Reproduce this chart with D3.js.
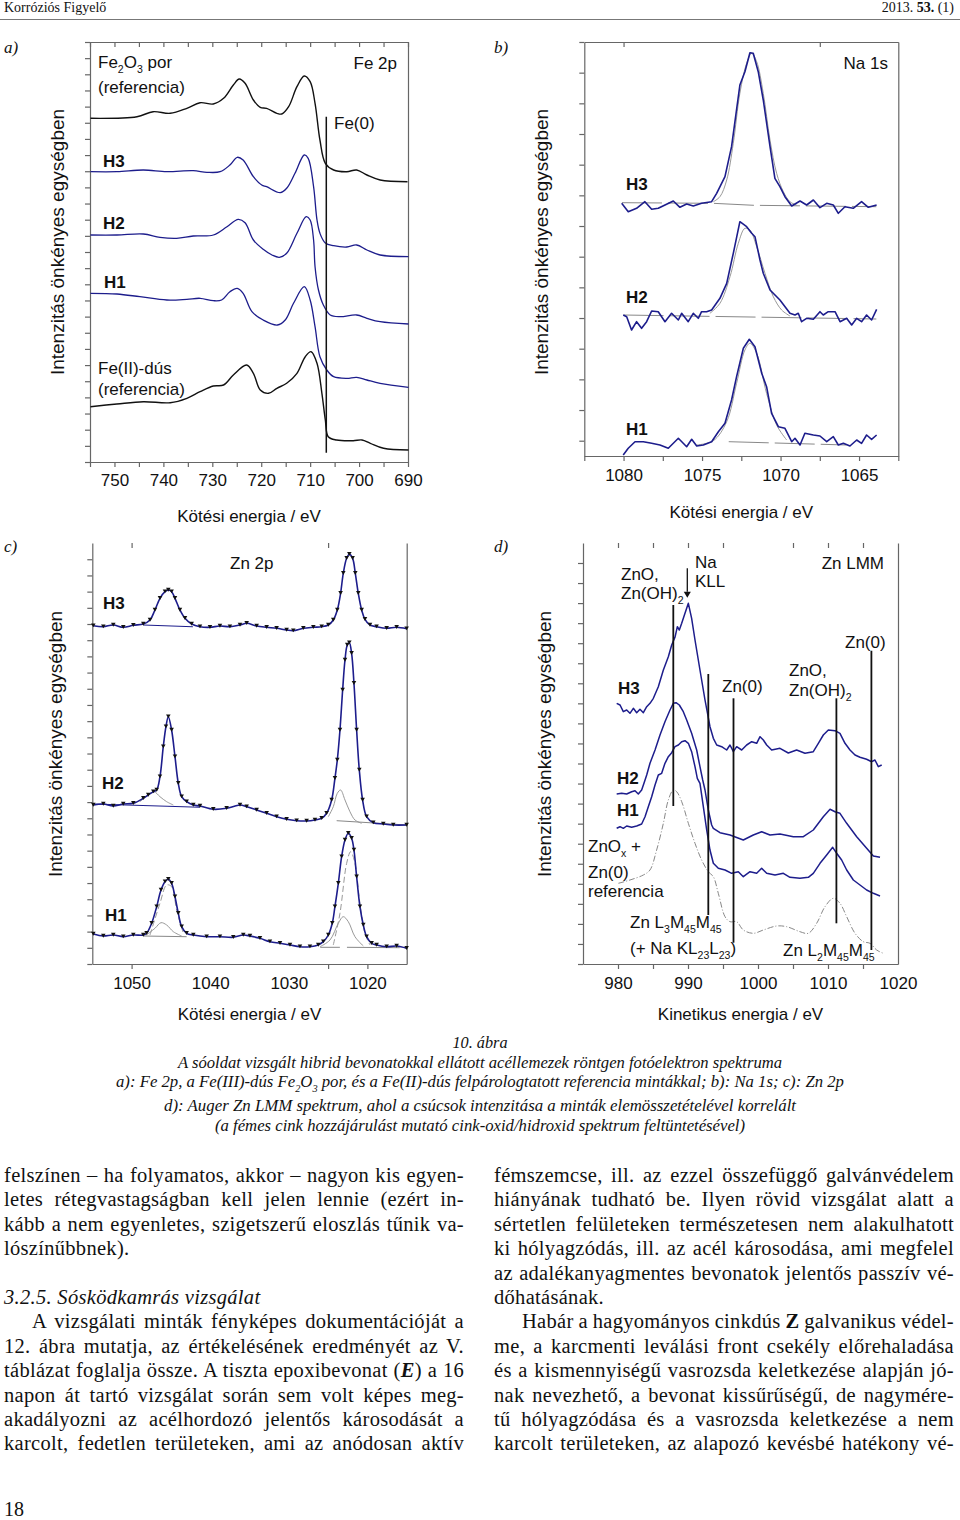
<!DOCTYPE html>
<html>
<head>
<meta charset="utf-8">
<script src="https://d3js.org/d3.v7.min.js"></script>
<style>
  body { margin: 0; background: #fff; }
  svg { display: block; }
  .ax path, .ax line { stroke: #666; stroke-width: 1.2; }
</style>
</head>
<body>
<svg id="page"></svg>
<script>
// ---- a) Fe 2p : [kötési energia eV, intenzitás tetsz. egység]
const aFe2O3 = [[754.9,343.7],[745.4,345.3],[742.1,350.3],[738.6,348.7],[735.2,353.7],[732.5,359.3],[729.8,358],[727.7,363.7],[725.7,377],[724.5,383],[723.3,378.7],[721.6,362],[720.2,354.7],[718.9,353.7],[716.8,348.7],[715.8,348],[714.4,355.3],[712.7,375.3],[711.2,386],[710,380.3],[709,358.7],[708,322],[706.9,298.7],[705.2,292],[702.5,290.3],[700.5,292],[698.4,287],[695.7,282],[690.1,280.3]];
const aH3 = [[754.9,290.3],[749.5,290.3],[744.1,292],[739.3,290.3],[733.9,291.3],[731.1,289.7],[728.4,290.3],[726.4,297],[724.9,304.7],[723.7,302],[721.6,285.3],[719.9,277],[718.9,275.3],[716.1,269.3],[714.8,273.7],[713.1,288.7],[711.2,307],[710.4,303.7],[709.3,275.3],[708.6,242],[708,228.7],[706.9,219],[705.2,216.3],[702.5,215],[700.5,217],[698.4,212],[695.7,207],[689.9,205.3]];
const aH2 = [[754.9,227],[749.5,227],[744.1,228],[740.7,224.7],[737.3,223.7],[733.9,226],[729.8,227],[727,235.3],[724.7,242.7],[723.3,239.3],[721.6,222],[719.6,212.7],[717.8,207],[716.3,204.7],[714.8,208.7],[712.7,228.7],[710.8,245.3],[710,242],[709.3,222],[709,195.3],[708.3,172],[707.3,157],[705.9,147],[703.9,145.3],[700.5,147],[698.4,143.7],[695.7,140.3],[689.9,138]];
const aH1 = [[754.9,168.7],[749.5,168],[744.8,165.3],[739.3,162],[735.2,162.7],[732.5,163.7],[729.8,161.3],[728.1,162],[726.4,170.3],[724.9,173.7],[723.7,168.7],[721.9,150.3],[719.6,142],[716.7,137],[715.1,142],[713.4,158.7],[711.2,175.3],[710,162],[709,135.3],[708,105.3],[706.6,92],[705.2,85.3],[702.5,83.7],[700.5,84.7],[698.4,82],[695.7,78.7],[689.9,74.7]];
const aFeII = [[754.9,55.3],[749.5,58],[744.1,60.3],[738.6,59.3],[735.2,63.7],[732.5,70.3],[729.8,76],[727.7,77],[725.7,87],[723,97],[721.6,88.7],[720.2,72],[718.5,68.7],[716.8,73.7],[714.8,78.7],[712.7,88.7],[711,105.3],[709.8,110.3],[708.6,98.7],[707.6,68.7],[706.9,42],[706.3,25.3],[704.6,22],[701.2,21.3],[699.4,22],[697.7,18.7],[695,13.7],[689.9,12]];
const aFe0Line = [[706.7,345.3],[706.7,9.3]];
const aXLabels = [750, 740, 730, 720, 710, 700, 690];
const aXTicks = d3.range(755, 689, -5);

// ---- b) Na 1s
const bH3 = [[1080.12,252.7],[1079.70,244.3],[1079.17,247.7],[1078.64,254.3],[1078.21,246.7],[1077.79,247.7],[1077.36,251],[1076.83,255],[1076.41,248.7],[1075.98,252],[1075.56,250],[1075.03,252.7],[1074.39,254.3],[1074.07,262.7],[1073.54,279.3],[1073.12,309.3],[1072.59,371],[1072.27,384.3],[1071.95,403.3],[1071.74,402.7],[1071.42,384.3],[1071.10,356],[1070.67,309.3],[1070.36,277.7],[1070.04,269.3],[1069.72,259.3],[1069.29,250],[1068.76,255],[1068.34,251],[1067.91,256],[1067.49,248.3],[1067.06,252.7],[1066.64,251],[1066.32,242.7],[1065.90,249.3],[1065.37,247.7],[1064.84,254.3],[1064.41,248.7],[1063.88,251]];
const bH3Fit = [[1074.28,254.3],[1073.86,259.3],[1073.43,276],[1073.01,312.7],[1072.59,362.7],[1072.16,392.7],[1071.84,402.7],[1071.52,394.3],[1071.10,362.7],[1070.67,316],[1070.25,282.7],[1069.82,264.3],[1069.40,254.3],[1068.98,251]];
const bH3Base = [[1080.1,253.3],[1074.3,252.7],[1071.7,250.7],[1063.9,249.3]];
const bH2 = [[1080.02,141],[1079.80,139.3],[1079.49,126],[1079.17,134.3],[1078.85,127.7],[1078.53,134.3],[1078.21,145],[1077.79,144.3],[1077.36,134.3],[1076.94,142.7],[1076.51,136],[1076.30,142.7],[1075.88,134.3],[1075.56,142.7],[1075.24,137.7],[1075.03,144.3],[1074.71,144.3],[1074.39,146],[1073.86,157.7],[1073.43,172.7],[1073.01,202.7],[1072.59,234.3],[1072.16,229.3],[1071.84,222.7],[1071.63,219.3],[1071.31,196],[1071.10,182.7],[1070.67,166],[1070.04,156],[1069.40,142.7],[1069.08,141],[1068.87,142.7],[1068.66,134.3],[1068.34,137.7],[1067.91,136.7],[1067.49,144.3],[1067.28,141],[1066.96,144.3],[1066.53,144.3],[1066.21,134.3],[1065.79,137.7],[1065.47,131],[1065.15,137.7],[1064.84,134.3],[1064.52,141],[1064.20,136],[1063.88,146.7]];
const bH2Fit = [[1074.50,142.7],[1073.86,152.7],[1073.22,179.3],[1072.69,212.7],[1072.27,227.7],[1071.95,226],[1071.52,209.3],[1070.99,182.7],[1070.46,159.3],[1069.93,146],[1069.40,140]];
const bH2Base = [[1080.0,141],[1063.9,137]];
const bH1 = [[1080.02,1],[1079.70,7.7],[1079.27,14.3],[1078.74,14.3],[1078.21,12.7],[1077.68,11],[1077.15,7.7],[1076.51,17.7],[1075.98,9.3],[1075.66,16.7],[1075.34,10],[1074.92,11],[1074.39,14.3],[1073.96,24.3],[1073.54,32.7],[1073.12,56],[1072.80,79.3],[1072.37,107.7],[1071.99,116.7],[1071.63,109.3],[1071.20,82.7],[1070.89,69.3],[1070.57,42.7],[1070.14,29.3],[1069.72,27.7],[1069.29,14.3],[1069.08,17.7],[1068.76,11],[1068.45,22.7],[1067.91,21],[1067.49,20],[1067.06,14.3],[1066.64,19.3],[1066.32,11],[1066.00,12.7],[1065.58,10],[1065.15,16],[1064.84,12.7],[1064.52,21],[1064.20,16.7],[1063.88,21]];
const bH1Fit = [[1075.34,11],[1074.28,15.3],[1073.43,34.3],[1072.80,72.7],[1072.27,106],[1071.95,112.7],[1071.52,102.7],[1070.89,62.7],[1070.25,31],[1069.61,16]];
const bH1Base = [[1073.3,14.3],[1065.8,11]];
const bXLabels = [1080, 1075, 1070, 1065];
const bXTicks = d3.range(1082.5, 1062, -2.5);

// ---- c) Zn 2p
const cH3 = [[1054.87,338.3],[1053.60,337.3],[1052.33,339],[1051.06,336.7],[1049.78,338.7],[1048.51,340],[1047.66,344],[1047.03,354],[1046.39,365.7],[1045.75,372.3],[1045.33,374],[1044.91,372.3],[1044.48,365.7],[1043.85,354],[1043.21,345.7],[1042.36,340],[1041.30,337.3],[1040.03,336.7],[1038.76,338],[1037.49,337.3],[1036.21,339],[1035.36,340.7],[1034.09,338],[1032.82,336.7],[1031.55,335.7],[1030.28,334],[1029.43,333.3],[1028.15,335.7],[1026.88,336.7],[1025.82,337.3],[1024.97,339],[1024.34,344],[1023.83,354],[1023.41,370.7],[1023.07,390.7],[1022.64,405.7],[1022.30,409.7],[1021.88,405.7],[1021.54,390.7],[1021.16,370.7],[1020.73,354],[1020.31,344.7],[1019.67,339],[1018.83,337.3],[1017.55,335.7],[1016.28,336.7],[1015.01,335.3]];
const cH3Base = [[1048.5,339],[1042.2,337.3]];
const cH2 = [[1054.87,159],[1053.60,160],[1052.33,158],[1051.06,160],[1049.78,160.7],[1048.51,165.7],[1047.88,169],[1047.24,172.3],[1046.81,174],[1046.39,187.3],[1045.97,217.3],[1045.63,237.3],[1045.33,247.3],[1044.91,234],[1044.48,207.3],[1044.06,180.7],[1043.63,167.3],[1043.00,162.3],[1042.15,159],[1041.30,158],[1039.61,154.7],[1037.91,155.7],[1036.21,159],[1035.36,157.3],[1034.09,154],[1032.82,150.7],[1031.55,147.3],[1030.28,144.7],[1029.00,143.3],[1027.73,143],[1026.67,144],[1025.82,145.7],[1025.19,150.7],[1024.55,164],[1024.13,185.7],[1023.83,204],[1023.49,234],[1023.15,274],[1022.85,304],[1022.56,319],[1022.30,321.3],[1022.01,310.7],[1021.71,280.7],[1021.37,234],[1021.03,194],[1020.61,164],[1020.10,147.3],[1019.25,141.3],[1017.98,140],[1016.71,139],[1015.01,139]];
const cH2CompA = [[1048.94,162.3],[1047.88,169],[1047.15,172.3],[1046.39,167.3],[1045.54,162.3],[1044.69,159]];
const cH2CompB = [[1024.97,147.3],[1024.34,157.3],[1023.83,170.7],[1023.41,174],[1022.85,164],[1022.22,152.3],[1021.58,144],[1020.73,140.7]];
const cH2BaseL = [[1054.87,160],[1041.30,156.7]];
const cH2BaseR = [[1023.91,143.3],[1015.01,139]];
const cH1 = [[1054.87,30],[1053.60,28],[1052.33,29],[1051.06,27.3],[1049.78,29],[1048.51,29],[1048.09,30.7],[1047.45,40.7],[1046.81,57.3],[1046.26,74],[1045.75,82.3],[1045.33,84.7],[1044.91,80.7],[1044.48,67.3],[1044.06,50.7],[1043.63,37.3],[1043.00,30.7],[1042.15,29],[1040.45,27.3],[1038.76,27.3],[1037.06,26.7],[1035.79,29],[1034.94,28],[1033.67,25.7],[1032.40,22.3],[1031.12,20.7],[1029.85,19],[1028.58,17.3],[1027.31,17.3],[1026.25,19],[1025.61,22.3],[1024.97,29],[1024.47,40.7],[1024.13,57.3],[1023.70,80.7],[1023.28,107.3],[1022.85,124],[1022.43,130.7],[1022.01,125.7],[1021.71,114],[1021.37,87.3],[1020.95,57.3],[1020.52,39],[1020.10,27.3],[1019.46,20.7],[1018.83,19],[1017.55,17.3],[1016.28,18],[1015.01,15.7]];
const cH1CompA = [[1047.66,29],[1046.39,60.7],[1045.54,79],[1044.91,77.3],[1044.27,54],[1043.42,30.7]];
const cH1CompB = [[1048.09,29],[1047.03,35.7],[1046.26,41.3],[1045.54,39],[1044.69,32.3],[1043.63,28]];
const cH1CompC = [[1024.34,19],[1023.49,50.7],[1022.64,100.7],[1022.13,112.3],[1021.58,100.7],[1020.95,60.7],[1020.31,30.7],[1019.67,19]];
const cH1CompD = [[1026.03,17.3],[1024.76,24],[1023.70,40.7],[1023.07,47.3],[1022.43,42.3],[1021.58,27.3],[1020.52,18]];
const cH1BaseL = [[1048.5,28],[1043.0,27.3]];
const cH1BaseR = [[1026.0,16.7],[1023.5,16.7]];
const cH1BaseR2 = [[1022.6,16.7],[1015.9,16.3]];
const cXLabels = [1050, 1040, 1030, 1020];
const cXTicks = [1050, 1025, 1020];
const cTopTicks = [1050, 1025];

// ---- d) Zn LMM : [kinetikus energia eV, intenzitás]
const dH3 = [[979.81,260.7],[980.29,259],[980.76,252.3],[981.24,254],[981.71,250.7],[982.19,255.7],[982.67,251.3],[983.14,254.7],[983.62,251.3],[984.10,257.3],[984.57,260.7],[985.05,265.7],[985.76,277.3],[986.48,294],[987.19,307.3],[987.67,319],[988.14,326.7],[988.48,337.3],[988.76,334],[989.10,340.7],[989.57,350.7],[990.05,360.7],[990.52,345.7],[991.00,324],[991.71,294],[992.43,264],[993.14,237.3],[993.62,225.7],[994.10,219],[994.81,217.3],[995.52,214],[996.00,219],[996.48,212.3],[996.95,217.3],[997.67,214],[998.38,219],[999.10,222.3],[999.81,220.7],[1000.29,227.3],[1000.76,224],[1001.24,219],[1001.95,214],[1003.14,215.7],[1004.33,211],[1005.52,214],[1006.71,210.7],[1007.90,212.3],[1008.62,220.7],[1009.33,229],[1010.05,234],[1011.00,233.3],[1011.71,230.7],[1012.43,220.7],[1013.14,214],[1013.86,209],[1014.57,206.7],[1015.52,204.7],[1016.24,202.3],[1016.71,204],[1017.19,197.3],[1017.67,199]];
const dH2 = [[979.81,170],[980.52,170.7],[981.24,170],[981.95,172.3],[982.43,173.3],[982.90,170],[983.38,174],[983.71,180.7],[984.10,189],[984.57,200.7],[985.29,214],[986.00,229],[986.71,242.3],[987.43,254],[987.90,260.7],[988.29,261.3],[988.76,259],[989.33,252.3],[989.81,244],[990.52,230.7],[991.24,214],[991.71,197.3],[992.10,184],[992.43,174],[992.90,154],[993.38,139],[993.62,135.7],[994.57,131.3],[996.00,129],[997.90,124],[999.33,129],[1000.52,132.3],[1001.71,129],[1003.14,130],[1005.05,127.3],[1006.48,127.3],[1007.90,134],[1009.33,147.3],[1010.29,154.7],[1011.00,152.3],[1011.71,150.7],[1012.67,140.7],[1014.10,127.3],[1015.52,115.7],[1016.48,108],[1017.43,106.7]];
const dH1 = [[979.81,135.7],[980.29,137.3],[980.76,135.7],[981.24,138],[981.95,136.7],[982.67,138],[983.38,140],[983.86,147.3],[984.33,157.3],[984.81,167.3],[985.29,179],[985.76,189],[986.24,190.7],[986.71,200.7],[987.19,207.3],[987.67,211.3],[988.14,217.3],[988.62,219],[989.10,222.3],[989.57,223.3],[990.05,220.7],[990.52,212.3],[991.00,197.3],[991.33,185.7],[991.71,180.7],[992.19,157.3],[992.67,134],[993.14,114],[993.62,100.7],[994.33,95.7],[995.29,94],[996.24,90.7],[997.19,92.3],[997.90,87.3],[998.86,92.3],[999.81,90.7],[1000.52,95.7],[1001.24,90.7],[1002.43,89],[1003.62,90.7],[1004.57,86.7],[1006.00,85.7],[1007.19,86.7],[1007.90,90.7],[1008.86,100.7],[1009.81,109],[1010.67,116.7],[1011.24,110.7],[1011.95,104],[1012.67,94],[1013.62,84],[1014.57,79],[1015.52,74],[1016.48,70.7],[1017.43,68]];
const dRef = [[980.05,80.7],[981.71,84],[983.62,89],[984.57,94],[985.52,114],[986.48,140.7],[987.19,164],[987.90,174],[988.38,172.3],[989.10,162.3],[990.05,140.7],[991.00,120.7],[991.95,104],[992.90,92.3],[993.62,87.3],[994.33,70.7],[995.29,47.3],[996.00,42.3],[996.95,42.3],[997.90,34],[999.33,30.7],[1000.76,34],[1002.67,38],[1004.10,37.3],[1006.00,32.3],[1007.19,30.7],[1008.38,40.7],[1009.57,57.3],[1010.76,65.7],[1011.71,60.7],[1012.67,47.3],[1013.86,30.7],[1015.05,22.3],[1016.00,20.7],[1016.95,14],[1017.90,10.7]];
// függőleges jelölővonalak: [energia, felső, alsó]
const dMarks = [[987.9,359,158],[992.9,290,49],[996.5,265.7,21.3],[1011.2,265.7,40.7],[1016.2,313.3,14]];
const dNaKLL = [989.9, 395.7, 367.3];
const dXLabels = [980, 990, 1000, 1010, 1020];
const dXTicks = d3.range(980, 1016, 5);
const dTopTicks = [980, 985, 990, 995, 1005, 1010, 1015];

// ---- szöveg
const captionLines = [
  [["10. ábra"]],
  [["A sóoldat vizsgált hibrid bevonatokkal ellátott acéllemezek röntgen fotóelektron spektruma"]],
  [["a): Fe 2p, a Fe(III)-dús Fe"],["2","sub"],["O"],["3","sub"],[" por, és a Fe(II)-dús felpárologtatott referencia mintákkal; b): Na 1s; c): Zn 2p"]],
  [["d): Auger Zn LMM spektrum, ahol a csúcsok intenzitása a minták elemösszetételével korrelált"]],
  [["(a fémes cink hozzájárulást mutató cink-oxid/hidroxid spektrum feltüntetésével)"]]
];
const leftLines = [
  "felszínen – ha folyamatos, akkor – nagyon kis egyen-",
  "letes rétegvastagságban kell jelen lennie (ezért in-",
  "kább a nem egyenletes, szigetszerű eloszlás tűnik va-",
  "lószínűbbnek).",
  "",
  "3.2.5. Sósködkamrás vizsgálat",
  "A vizsgálati minták fényképes dokumentációját a",
  "12. ábra mutatja, az értékelésének eredményét az V.",
  "táblázat foglalja össze. A tiszta epoxibevonat (_E_) a 16",
  "napon át tartó vizsgálat során sem volt képes meg-",
  "akadályozni az acélhordozó jelentős károsodását a",
  "karcolt, fedetlen területeken, ami az anódosan aktív"
];
const rightLines = [
  "fémszemcse, ill. az ezzel összefüggő galvánvédelem",
  "hiányának tudható be. Ilyen rövid vizsgálat alatt a",
  "sértetlen felületeken természetesen nem alakulhatott",
  "ki hólyagzódás, ill. az acél károsodása, ami megfelel",
  "az adalékanyagmentes bevonatok jelentős passzív vé-",
  "dőhatásának.",
  "Habár a hagyományos cinkdús *Z* galvanikus védel-",
  "me, a karcmenti leválási front csekély előrehaladása",
  "és a kismennyiségű vasrozsda keletkezése alapján jó-",
  "nak nevezhető, a bevonat kissűrűségű, de nagymére-",
  "tű hólyagzódása és a vasrozsda keletkezése a nem",
  "karcolt területeken, az alapozó kevésbé hatékony vé-"
];
// j = sorkizárt, i = bekezdés behúzás, h = dőlt cím, n = normál
const leftKind  = ["j","j","j","n","n","h","ij","j","j","j","j","j"];
const rightKind = ["j","j","j","j","j","n","ij","j","j","j","j","j"];

const sans = "'Liberation Sans', Arial, sans-serif";
const serif = "'Liberation Serif', 'Times New Roman', serif";
const blue = "#1d1d8c";

const svg = d3.select("#page").attr("width", 960).attr("height", 1520);

function label(g, x, y, parts, o = {}) {
  const size = o.size || 17;
  const t = g.append("text").attr("x", x).attr("y", y)
    .attr("font-family", o.family || sans).attr("font-size", size).attr("fill", "#111");
  if (o.anchor) t.attr("text-anchor", o.anchor);
  if (o.weight) t.attr("font-weight", o.weight);
  if (o.style) t.attr("font-style", o.style);
  if (o.rotate) t.attr("transform", `rotate(${o.rotate},${x},${y})`);
  let shift = 0;
  const list = typeof parts === "string" ? [[parts]] : parts;
  list.forEach(([s, k]) => {
    const ts = t.append("tspan").text(s);
    const want = k === "sub" ? (o.subDy || size * 0.28) : 0;
    if (want !== shift) { ts.attr("dy", want - shift); shift = want; }
    if (k === "sub") ts.attr("font-size", size * 0.62);
    if (k === "b") ts.attr("font-weight", "bold");
    if (k === "bi") ts.attr("font-weight", "bold").attr("font-style", "italic");
  });
  return t;
}

function makePanel(b) {
  const x = d3.scaleLinear().domain(b.xDomain).range([b.left, b.right]);
  const y = d3.scaleLinear().domain(b.yDomain).range([b.bottom, b.top]);
  const g = svg.append("g");
  g.append("g").attr("class", "ax").attr("transform", `translate(0,${b.bottom})`)
    .call(d3.axisBottom(x).tickValues(b.xTicks).tickSize(5).tickSizeOuter(0).tickFormat(""));
  g.append("g").attr("transform", `translate(0,${b.bottom})`)
    .call(d3.axisBottom(x).tickValues(b.xLabels).tickSize(0).tickPadding(b.pad).tickFormat(d3.format("d")))
    .call(s => s.select(".domain").remove())
    .attr("font-size", 17).attr("font-family", sans)
    .selectAll("text").attr("fill", "#111");
  g.append("g").attr("class", "ax").attr("transform", `translate(${b.left},0)`)
    .call(d3.axisLeft(y).tickValues(b.yTicks).tickSize(5).tickSizeOuter(0).tickFormat(""));
  g.append("g").attr("class", "ax").attr("transform", `translate(${b.right},0)`)
    .call(d3.axisRight(y).tickValues([]).tickSizeOuter(0));
  const top = g.append("g").attr("class", "ax").attr("transform", `translate(0,${b.top})`)
    .call(d3.axisTop(x).tickValues(b.topTicks).tickSize(-5).tickSizeOuter(0).tickFormat(""));
  if (!b.topLine) top.select(".domain").remove();
  label(g, b.yTitleX, b.yTitleY, "Intenzitás önkényes egységben",
    { anchor: "middle", rotate: -90, size: 19 });
  label(g, (b.left + b.right) / 2, b.xTitleY, b.xTitle, { anchor: "middle", size: 17 });
  return { g, x, y };
}

function curve(p, data, color, width, dash, smooth) {
  p.g.append("path").datum(data)
    .attr("fill", "none").attr("stroke", color).attr("stroke-width", width)
    .attr("stroke-dasharray", dash || null).attr("stroke-linejoin", "round")
    .attr("d", d3.line().curve(smooth ? d3.curveCatmullRom.alpha(0.5) : d3.curveLinear)
      .x(d => p.x(d[0])).y(d => p.y(d[1])));
}

function markers(p, data) {
  p.g.append("g").selectAll("path").data(data).join("path")
    .attr("transform", d => `translate(${p.x(d[0])},${p.y(d[1]) - 1}) rotate(180)`)
    .attr("d", d3.symbol(d3.symbolTriangle, 9)).attr("fill", "#111");
}

// ---------- fejléc
const head = svg.append("g");
label(head, 4, 12, "Korróziós Figyelő", { family: serif, size: 14 });
label(head, 954, 12, [["2013. "], ["53.", "b"], [" (1)"]], { family: serif, size: 14, anchor: "end" });
head.append("line").attr("x1", 0).attr("x2", 960).attr("y1", 19.5).attr("y2", 19.5)
  .attr("stroke", "#777").attr("stroke-width", 1);

// ---------- a) panel
const pa = makePanel({ left: 90, right: 408, top: 42, bottom: 462, xDomain: [755, 690], yDomain: [0, 420],
  xTicks: aXTicks, xLabels: aXLabels, topTicks: aXTicks, topLine: true, pad: 12,
  yTicks: d3.range(0, 27).map(k => k * 420 / 26), yTitleX: 64, yTitleY: 242,
  xTitle: "Kötési energia / eV", xTitleY: 522 });
curve(pa, aFe2O3, "#111", 1.4, null, true);
curve(pa, aH3, blue, 1.3, null, true);
curve(pa, aH2, blue, 1.3, null, true);
curve(pa, aH1, blue, 1.3, null, true);
curve(pa, aFeII, "#111", 1.4, null, true);
curve(pa, aFe0Line, "#111", 1.5);
label(svg, 4, 53, "a)", { family: serif, style: "italic", size: 17 });
label(pa.g, 98, 68, [["Fe"], ["2", "sub"], ["O"], ["3", "sub"], [" por"]]);
label(pa.g, 98, 93, "(referencia)");
label(pa.g, 397, 69, "Fe 2p", { anchor: "end" });
label(pa.g, 334, 129, "Fe(0)");
label(pa.g, 103, 167, "H3", { weight: "bold" });
label(pa.g, 103, 229, "H2", { weight: "bold" });
label(pa.g, 104, 288, "H1", { weight: "bold" });
label(pa.g, 98, 374, "Fe(II)-dús");
label(pa.g, 98, 395, "(referencia)");

// ---------- b) panel
const pb = makePanel({ left: 584.3, right: 898.3, top: 42, bottom: 456, xDomain: [1082.5, 1062.5], yDomain: [0, 414],
  xTicks: bXTicks, xLabels: bXLabels, topTicks: [1080, 1067.5], topLine: true, pad: 13,
  yTicks: d3.range(0, 14).map(k => 15.3 + k * 30.67), yTitleX: 548, yTitleY: 242,
  xTitle: "Kötési energia / eV", xTitleY: 518 });
[bH3Base, bH2Base, bH1Base].forEach(d => curve(pb, d, "#888", 1, "40,6"));
[bH3Fit, bH2Fit, bH1Fit].forEach(d => curve(pb, d, "#999", 1, null, true));
[bH3, bH2, bH1].forEach(d => curve(pb, d, blue, 1.6));
label(svg, 494, 53, "b)", { family: serif, style: "italic", size: 17 });
label(pb.g, 888, 69, "Na 1s", { anchor: "end" });
label(pb.g, 626, 190, "H3", { weight: "bold" });
label(pb.g, 626, 303, "H2", { weight: "bold" });
label(pb.g, 626, 435, "H1", { weight: "bold" });

// ---------- c) panel
const pc = makePanel({ left: 92.3, right: 406.7, top: 543, bottom: 964, xDomain: [1055, 1015], yDomain: [0, 421],
  xTicks: cXTicks, xLabels: cXLabels, topTicks: cTopTicks, topLine: false, pad: 13,
  yTicks: d3.range(0, 26).map(k => k * 16.19), yTitleX: 62, yTitleY: 744,
  xTitle: "Kötési energia / eV", xTitleY: 1020 });
[cH3Base, cH2BaseL].forEach(d => curve(pc, d, blue, 1.1));
[cH2BaseR, cH1BaseL, cH1BaseR, cH1BaseR2].forEach(d => curve(pc, d, "#888", 1));
[cH2CompA, cH2CompB, cH1CompB, cH1CompD].forEach(d => curve(pc, d, "#999", 1, null, true));
[cH1CompA, cH1CompC].forEach(d => curve(pc, d, "#999", 1, "6,3", true));
[cH3, cH2, cH1].forEach(d => curve(pc, d, blue, 1.6, null, true));
[cH3, cH2, cH1].forEach(d => markers(pc, d));
label(svg, 4, 552, "c)", { family: serif, style: "italic", size: 17 });
label(pc.g, 230, 569, "Zn 2p");
label(pc.g, 103, 609, "H3", { weight: "bold" });
label(pc.g, 102, 789, "H2", { weight: "bold" });
label(pc.g, 105, 921, "H1", { weight: "bold" });

// ---------- d) panel
const pd = makePanel({ left: 583, right: 898, top: 543, bottom: 964, xDomain: [975, 1020], yDomain: [0, 421],
  xTicks: dXTicks, xLabels: dXLabels, topTicks: dTopTicks, topLine: false, pad: 13,
  yTicks: d3.range(0, 21).map(k => k * 20.05), yTitleX: 551, yTitleY: 744,
  xTitle: "Kinetikus energia / eV", xTitleY: 1020 });
curve(pd, dRef, "#888", 1, "6,2,1,2", true);
[dH3, dH2, dH1].forEach(d => curve(pd, d, blue, 1.5));
pd.g.append("g").selectAll("line").data(dMarks).join("line")
  .attr("x1", d => pd.x(d[0])).attr("x2", d => pd.x(d[0]))
  .attr("y1", d => pd.y(d[1])).attr("y2", d => pd.y(d[2]))
  .attr("stroke", "#111").attr("stroke-width", 1.8);
pd.g.append("line").attr("x1", pd.x(dNaKLL[0])).attr("x2", pd.x(dNaKLL[0]))
  .attr("y1", pd.y(dNaKLL[1])).attr("y2", pd.y(dNaKLL[2]) - 5)
  .attr("stroke", "#111").attr("stroke-width", 1.3);
pd.g.append("path").attr("d", d3.symbol(d3.symbolTriangle, 22))
  .attr("transform", `translate(${pd.x(dNaKLL[0])},${pd.y(dNaKLL[2]) - 3}) rotate(180)`).attr("fill", "#111");
label(svg, 494, 552, "d)", { family: serif, style: "italic", size: 17 });
label(pd.g, 621, 580, "ZnO,");
label(pd.g, 621, 599, [["Zn(OH)"], ["2", "sub"]]);
label(pd.g, 695, 568, "Na");
label(pd.g, 695, 587, "KLL");
label(pd.g, 884, 569, "Zn LMM", { anchor: "end" });
label(pd.g, 845, 648, "Zn(0)");
label(pd.g, 618, 694, "H3", { weight: "bold" });
label(pd.g, 722, 692, "Zn(0)");
label(pd.g, 789, 676, "ZnO,");
label(pd.g, 789, 696, [["Zn(OH)"], ["2", "sub"]]);
label(pd.g, 617, 784, "H2", { weight: "bold" });
label(pd.g, 617, 816, "H1", { weight: "bold" });
label(pd.g, 588, 852, [["ZnO"], ["x", "sub"], [" +"]]);
label(pd.g, 588, 878, "Zn(0)");
label(pd.g, 588, 897, "referencia");
label(pd.g, 630, 928, [["Zn L"], ["3", "sub"], ["M"], ["45", "sub"], ["M"], ["45", "sub"]]);
label(pd.g, 630, 954, [["(+ Na KL"], ["23", "sub"], ["L"], ["23", "sub"], [")"]]);
label(pd.g, 783, 956, [["Zn L"], ["2", "sub"], ["M"], ["45", "sub"], ["M"], ["45", "sub"]]);

// ---------- ábraaláírás
const capY = [1048, 1068, 1087, 1111, 1131];
const capW = [55, 604, 728, 632, 530];
captionLines.forEach((parts, i) => {
  label(svg, 480, capY[i], parts, { family: serif, style: "italic", size: 16.5, anchor: "middle" })
    .attr("textLength", capW[i]).attr("lengthAdjust", "spacingAndGlyphs");
});

// ---------- törzsszöveg
function textLine(x0, y0, str, kind, width) {
  const indent = kind.includes("i") ? 28 : 0;
  const parts = str.split(/(\*[^*]+\*|_[^_]+_)/).filter(s => s.length).map(s =>
    s[0] === "*" ? [s.slice(1, -1), "b"] : s[0] === "_" ? [s.slice(1, -1), "bi"] : [s]);
  const t = label(svg, x0 + indent, y0, parts, { family: serif, size: 20.5, style: kind === "h" ? "italic" : null })
    .attr("letter-spacing", 0.3);
  if (kind.includes("j")) {
    const w = t.node().getComputedTextLength();
    const spaces = (str.match(/ /g) || []).length;
    if (spaces) t.attr("word-spacing", (width - indent - w) / spaces);
  }
}
leftLines.forEach((s, i) => { if (s) textLine(4, 1182 + i * 24.4, s, leftKind[i], 460); });
rightLines.forEach((s, i) => textLine(494, 1182 + i * 24.4, s, rightKind[i], 460));
label(svg, 4, 1516, "18", { family: serif, size: 20 });
</script>
</body>
</html>
